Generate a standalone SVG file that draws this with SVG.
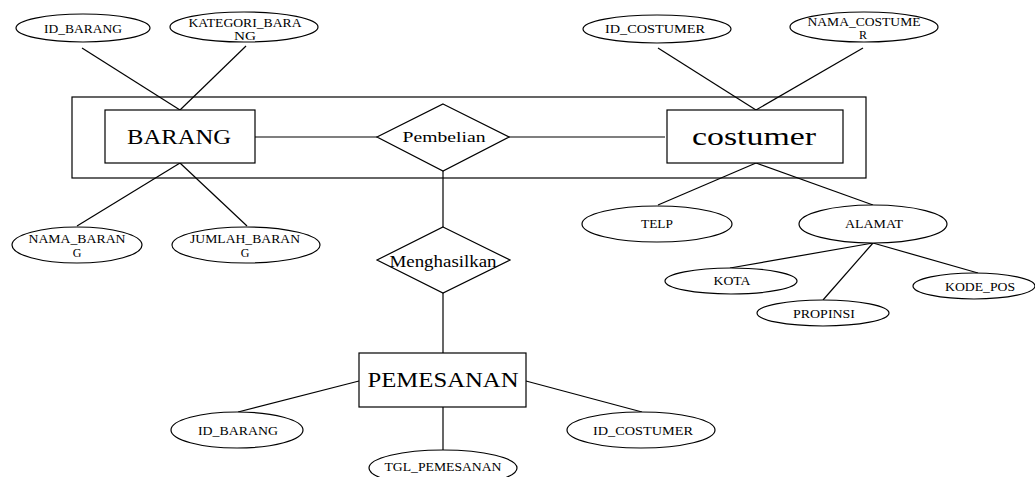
<svg xmlns="http://www.w3.org/2000/svg" width="1035" height="477" viewBox="0 0 1035 477">
  <style>
    .shape { fill: #fff; stroke: #000; stroke-width: 1.2; }
    .frame { fill: none; stroke: #000; stroke-width: 1.2; }
    .link { stroke: #000; stroke-width: 1.2; fill: none; }
    text { font-family: "Liberation Serif", "Times New Roman", serif; fill: #000; text-anchor: middle; }
    .attr { font-size: 12px; }
    .rel { font-size: 15px; }
    .ent { font-size: 20px; }
  </style>
  <rect width="1035" height="477" fill="#fff"/>

  <!-- aggregation frame around BARANG - Pembelian - costumer -->
  <rect class="frame" x="72" y="97" width="794" height="81"/>

  <g id="connectors">
    <!-- BARANG attributes -->
    <line class="link" x1="82" y1="48" x2="180" y2="110"/>
    <line class="link" x1="246" y1="46" x2="180" y2="110"/>
    <line class="link" x1="180" y1="163" x2="77" y2="226"/>
    <line class="link" x1="180" y1="163" x2="247" y2="226"/>
    <!-- costumer attributes -->
    <line class="link" x1="658" y1="48" x2="756" y2="110"/>
    <line class="link" x1="863" y1="48" x2="756" y2="110"/>
    <line class="link" x1="756" y1="163" x2="658" y2="205"/>
    <line class="link" x1="756" y1="163" x2="873" y2="205"/>
    <!-- ALAMAT components -->
    <line class="link" x1="873" y1="243" x2="730" y2="268"/>
    <line class="link" x1="873" y1="243" x2="823" y2="300"/>
    <line class="link" x1="873" y1="243" x2="978" y2="273"/>
    <!-- relationships -->
    <line class="link" x1="255" y1="137" x2="377" y2="137"/>
    <line class="link" x1="509" y1="137" x2="665" y2="137"/>
    <line class="link" x1="443" y1="171" x2="443" y2="227"/>
    <line class="link" x1="443" y1="293" x2="443" y2="353"/>
    <!-- PEMESANAN attributes -->
    <line class="link" x1="359" y1="381" x2="238" y2="412"/>
    <line class="link" x1="443" y1="407" x2="443" y2="450"/>
    <line class="link" x1="526" y1="381" x2="642" y2="412"/>
  </g>

  <g id="barang">
    <rect class="shape" x="105" y="110" width="150" height="53"/>
    <text class="ent" x="179" y="144" textLength="104" lengthAdjust="spacingAndGlyphs">BARANG</text>
  </g>
  <g id="pembelian">
    <polygon class="shape" points="443,104 509,137 443,171 377,137"/>
    <text class="rel" x="444" y="142" textLength="83" lengthAdjust="spacingAndGlyphs">Pembelian</text>
  </g>
  <g id="costumer">
    <rect class="shape" x="667" y="110" width="176" height="53"/>
    <text x="754" y="145" font-size="26" textLength="124" lengthAdjust="spacingAndGlyphs">costumer</text>
  </g>
  <g id="menghasilkan">
    <polygon class="shape" points="443,227 510,260 443,293 377,260"/>
    <text x="443" y="267" font-size="16" textLength="107" lengthAdjust="spacingAndGlyphs">Menghasilkan</text>
  </g>
  <g id="pemesanan">
    <rect class="shape" x="359" y="353" width="167" height="54"/>
    <text x="443" y="387" font-size="22" textLength="151" lengthAdjust="spacingAndGlyphs">PEMESANAN</text>
  </g>

  <g id="attr-id-barang">
    <ellipse class="shape" cx="83" cy="28" rx="67" ry="14"/>
    <text class="attr" x="83" y="33" textLength="78" lengthAdjust="spacingAndGlyphs">ID_BARANG</text>
  </g>
  <g id="attr-kategori-barang">
    <ellipse class="shape" cx="244" cy="27" rx="74" ry="15"/>
    <text class="attr" x="245" y="27" textLength="113" lengthAdjust="spacingAndGlyphs">KATEGORI_BARA</text>
    <text class="attr" x="245" y="40" textLength="22" lengthAdjust="spacingAndGlyphs">NG</text>
  </g>
  <g id="attr-nama-barang">
    <ellipse class="shape" cx="77" cy="245" rx="65" ry="18"/>
    <text class="attr" x="77" y="243" textLength="97" lengthAdjust="spacingAndGlyphs">NAMA_BARAN</text>
    <text class="attr" x="77" y="257">G</text>
  </g>
  <g id="attr-jumlah-barang">
    <ellipse class="shape" cx="246" cy="245" rx="74" ry="18"/>
    <text class="attr" x="245" y="243" textLength="110" lengthAdjust="spacingAndGlyphs">JUMLAH_BARAN</text>
    <text class="attr" x="245" y="257">G</text>
  </g>
  <g id="attr-id-costumer">
    <ellipse class="shape" cx="657" cy="29" rx="74" ry="14"/>
    <text class="attr" x="655" y="33" textLength="100" lengthAdjust="spacingAndGlyphs">ID_COSTUMER</text>
  </g>
  <g id="attr-nama-costumer">
    <ellipse class="shape" cx="864" cy="27" rx="74" ry="15"/>
    <text class="attr" x="864" y="26" textLength="113" lengthAdjust="spacingAndGlyphs">NAMA_COSTUME</text>
    <text class="attr" x="863" y="39">R</text>
  </g>
  <g id="attr-telp">
    <ellipse class="shape" cx="657" cy="224" rx="75" ry="18"/>
    <text class="attr" x="657" y="228" textLength="32" lengthAdjust="spacingAndGlyphs">TELP</text>
  </g>
  <g id="attr-alamat">
    <ellipse class="shape" cx="873" cy="224" rx="74" ry="19"/>
    <text class="attr" x="874" y="228" textLength="58" lengthAdjust="spacingAndGlyphs">ALAMAT</text>
  </g>
  <g id="attr-kota">
    <ellipse class="shape" cx="731" cy="281" rx="66" ry="13"/>
    <text class="attr" x="732" y="285" textLength="37" lengthAdjust="spacingAndGlyphs">KOTA</text>
  </g>
  <g id="attr-propinsi">
    <ellipse class="shape" cx="823" cy="313" rx="66" ry="13"/>
    <text class="attr" x="824" y="318" textLength="62" lengthAdjust="spacingAndGlyphs">PROPINSI</text>
  </g>
  <g id="attr-kode-pos">
    <ellipse class="shape" cx="974" cy="286" rx="61" ry="13"/>
    <text class="attr" x="980" y="291" textLength="70" lengthAdjust="spacingAndGlyphs">KODE_POS</text>
  </g>
  <g id="attr-id-barang-pesan">
    <ellipse class="shape" cx="237" cy="430" rx="66" ry="18"/>
    <text class="attr" x="238" y="435" textLength="80" lengthAdjust="spacingAndGlyphs">ID_BARANG</text>
  </g>
  <g id="attr-tgl-pemesanan">
    <ellipse class="shape" cx="443" cy="468" rx="74" ry="18"/>
    <text class="attr" x="443" y="471" textLength="117" lengthAdjust="spacingAndGlyphs">TGL_PEMESANAN</text>
  </g>
  <g id="attr-id-costumer-pesan">
    <ellipse class="shape" cx="641" cy="430" rx="74" ry="18"/>
    <text class="attr" x="643" y="435" textLength="100" lengthAdjust="spacingAndGlyphs">ID_COSTUMER</text>
  </g>
</svg>
